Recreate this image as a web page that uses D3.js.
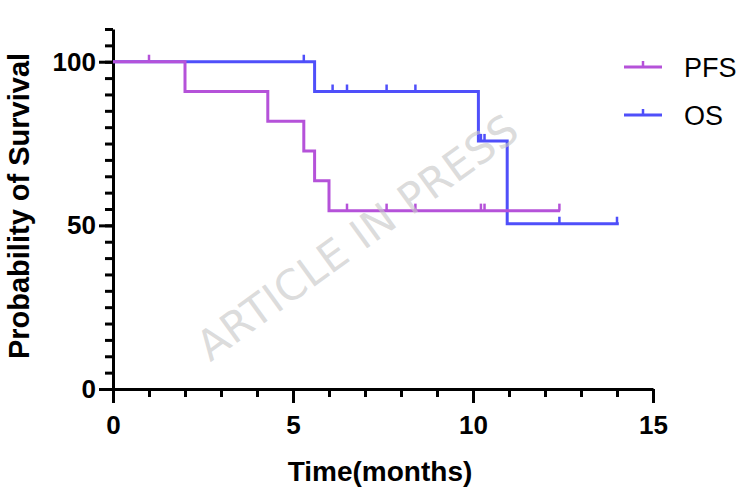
<!DOCTYPE html>
<html>
<head>
<meta charset="utf-8">
<script src="https://cdn.jsdelivr.net/npm/d3@7"></script>
<style>
  body { margin: 0; background: #fff; }
  svg { display: block; }
  .axis text { font-family: "Liberation Sans", Arial, sans-serif; font-weight: bold; font-size: 26px; fill: #000; }
  .axis path, .axis line { stroke: #000; stroke-width: 3; }
</style>
</head>
<body>
<div class="graph"></div>
<script>
// Kaplan-Meier steps
var pfsTime = [0, 2.0, 4.3, 5.3, 5.6, 6.0, 12.42];
var pfsSurv = [100, 90.9, 81.8, 72.7, 63.6, 54.5, 54.5];
var pfsCensor = [1.0, 6.5, 7.6, 8.4, 10.22, 10.32, 12.4];

var osTime = [0, 5.6, 10.15, 10.95, 14.05];
var osSurv = [100, 90.9, 75.8, 50.5, 50.5];
var osCensor = [5.3, 6.1, 6.5, 7.6, 8.4, 10.22, 10.32, 12.4, 14.0];

var xMajor = [0, 5, 10, 15];
var yMajor = [0, 50, 100];

var seriesNames = ["PFS", "OS"];
var seriesColors = ["#b552d9", "#4f4ffa"];

var width = 753, height = 489;

var svg = d3.select(".graph").append("svg")
    .attr("width", width)
    .attr("height", height);

var x = d3.scaleLinear().domain([0, 15]).range([113, 653]);
var y = d3.scaleLinear().domain([0, 110]).range([389, 29]);

// y axis: minor ticks every 5, major at 0/50/100
svg.append("g")
    .attr("class", "axis")
    .attr("transform", "translate(" + x(0) + ",0)")
    .call(d3.axisLeft(y).tickValues(d3.range(0, 111, 5)).tickSize(8).tickSizeOuter(0).tickFormat(""));
svg.append("g")
    .attr("class", "axis")
    .attr("transform", "translate(" + x(0) + ",0)")
    .call(d3.axisLeft(y).tickValues(yMajor).tickSize(14).tickPadding(3).tickSizeOuter(0))
    .select(".domain").remove();

// x axis: minor ticks every month
svg.append("g")
    .attr("class", "axis")
    .attr("transform", "translate(0," + y(0) + ")")
    .call(d3.axisBottom(x).tickValues(d3.range(0, 16, 1)).tickSize(8).tickSizeOuter(0).tickFormat(""));
svg.append("g")
    .attr("class", "axis")
    .attr("transform", "translate(0," + y(0) + ")")
    .call(d3.axisBottom(x).tickValues(xMajor).tickSize(14).tickPadding(13).tickSizeOuter(0))
    .select(".domain").remove();

// axis titles
svg.append("text")
    .attr("transform", "translate(29," + 206 + ") rotate(-90)")
    .attr("text-anchor", "middle")
    .style("font-family", "'Liberation Sans', Arial, sans-serif")
    .style("font-weight", "bold")
    .style("font-size", "29px")
    .text("Probability of Survival");

svg.append("text")
    .attr("x", 380)
    .attr("y", 481)
    .attr("text-anchor", "middle")
    .style("font-family", "'Liberation Sans', Arial, sans-serif")
    .style("font-weight", "bold")
    .style("font-size", "28px")
    .text("Time(months)");

var line = d3.line()
    .x(function(d) { return x(d[0]); })
    .y(function(d) { return y(d[1]); })
    .curve(d3.curveStepAfter);

function survAt(times, surv, t) {
  var v = surv[0];
  for (var k = 0; k < times.length; k++) {
    if (times[k] <= t) v = surv[k];
  }
  return v;
}

function drawSeries(times, surv, censor, color) {
  var g = svg.append("g");
  g.append("path")
      .datum(d3.zip(times, surv))
      .attr("d", line)
      .attr("fill", "none")
      .attr("stroke", color)
      .attr("stroke-width", 3);
  g.selectAll("line.censor")
      .data(censor)
      .enter().append("line")
      .attr("class", "censor")
      .attr("x1", function(d) { return x(d); })
      .attr("x2", function(d) { return x(d); })
      .attr("y1", function(d) { return y(survAt(times, surv, d)); })
      .attr("y2", function(d) { return y(survAt(times, surv, d)) - 7; })
      .attr("stroke", color)
      .attr("stroke-width", 2.5);
}

drawSeries(osTime, osSurv, osCensor, seriesColors[1]);
drawSeries(pfsTime, pfsSurv, pfsCensor, seriesColors[0]);

// legend
var legend = svg.selectAll("g.legend")
    .data(seriesNames)
    .enter().append("g")
    .attr("class", "legend")
    .attr("transform", function(d, i) { return "translate(0," + (67 + i * 48) + ")"; });

legend.append("line")
    .attr("x1", 624).attr("x2", 662)
    .attr("stroke", function(d, i) { return seriesColors[i]; })
    .attr("stroke-width", 3);
legend.append("line")
    .attr("x1", 643).attr("x2", 643)
    .attr("y1", 0).attr("y2", -6)
    .attr("stroke", function(d, i) { return seriesColors[i]; })
    .attr("stroke-width", 2.5);
legend.append("text")
    .attr("x", 684)
    .attr("y", 10)
    .style("font-family", "'Liberation Sans', Arial, sans-serif")
    .style("font-size", "27px")
    .text(function(d) { return d; });

// watermark
svg.append("text")
    .attr("transform", "translate(357,237) rotate(-36)")
    .attr("text-anchor", "middle")
    .attr("dy", "0.36em")
    .attr("textLength", 385)
    .style("font-family", "'DejaVu Sans', Verdana, sans-serif")
    .style("font-size", "42px")
    .style("fill", "#c8c8c8")
    .style("fill-opacity", 0.65)
    .text("ARTICLE IN PRESS");
</script>
</body>
</html>
